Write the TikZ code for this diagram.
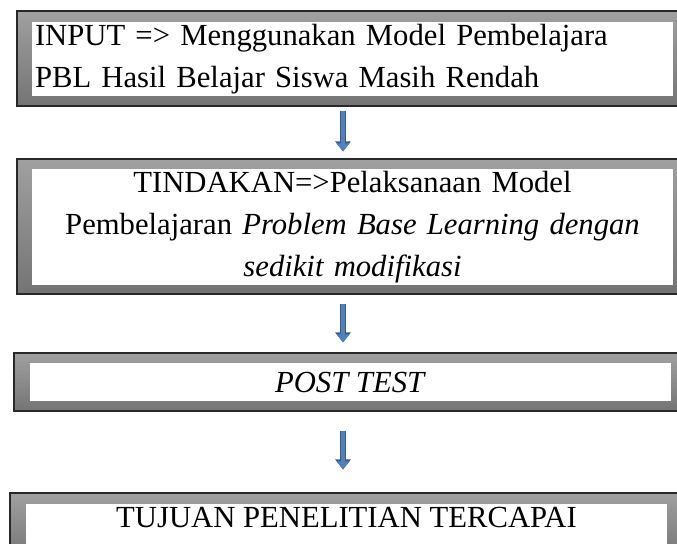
\documentclass[tikz,border=0pt]{standalone}
\usepackage{fontspec}
\setmainfont{Liberation Serif}
\usepackage{tikz}
\usetikzlibrary{arrows.meta}
\definecolor{frametop}{RGB}{160,160,160}
\definecolor{framebot}{RGB}{116,116,116}
\definecolor{frameedge}{RGB}{40,40,40}
\definecolor{arrowblue}{RGB}{79,129,189}
\definecolor{arrowedge}{RGB}{56,93,138}

\begin{document}
\begin{tikzpicture}[
    x=0.75pt, y=-0.75pt,
    frame/.style={rectangle, draw=frameedge, line width=0.9pt, top color=frametop, bottom color=framebot, inner sep=0pt},
    textbox/.style={rectangle, fill=white, inner xsep=2.25pt, inner ysep=0pt, minimum width=480.75pt, font=\fontsize{23}{31.5}\selectfont},
    flow/.style={draw=arrowblue, line width=3pt, -{Triangle[width=9.5pt,length=6pt]},
        preaction={draw=arrowedge, line width=4.5pt, -{Triangle[width=11.25pt,length=7.5pt]}}}
]
\useasboundingbox (0,0) rectangle (677,543);

% boxes
\node [frame, minimum width=504.75pt, minimum height=71.25pt] (input) at (353.5,58.5) {};
\node [textbox, minimum height=55.5pt, text width=476.25pt, align=left] (inputtxt) at (352.5,59)
    {INPUT => Menggunakan Model Pembelajara\\PBL Hasil Belajar Siswa Masih Rendah};

\node [frame, minimum width=504.75pt, minimum height=101.25pt] (act) at (353.5,226.5) {};
\node [textbox, minimum height=87pt, text width=476.25pt, align=center] (acttxt) at (352.5,227)
    {TINDAKAN=>Pelaksanaan Model\\Pembelajaran \textit{Problem Base Learning dengan}\\\textit{sedikit modifikasi}};

\node [frame, minimum width=507pt, minimum height=43.5pt] (post) at (352,382) {};
\node [textbox, minimum height=28.5pt] (posttxt) at (350.5,382) {\textit{POST TEST}};

\node [frame, minimum width=517.5pt, minimum height=50.25pt] (goal) at (355,526.5) {};
\node [textbox, anchor=north, text height=17.25pt, text depth=21.75pt] (goaltxt) at (346.5,504)
    {TUJUAN PENELITIAN TERCAPAI};

% arrows
\coordinate (axis) at (343,0);
\draw [flow, shorten <=3pt, shorten >=5.25pt] (input.south -| axis) -- (act.north -| axis);
\draw [flow, shorten <=6.75pt, shorten >=7.5pt] (act.south -| axis) -- (post.north -| axis);
\draw [flow, shorten <=14.25pt, shorten >=17.25pt] (post.south -| axis) -- (goal.north -| axis);

\end{tikzpicture}
\end{document}
